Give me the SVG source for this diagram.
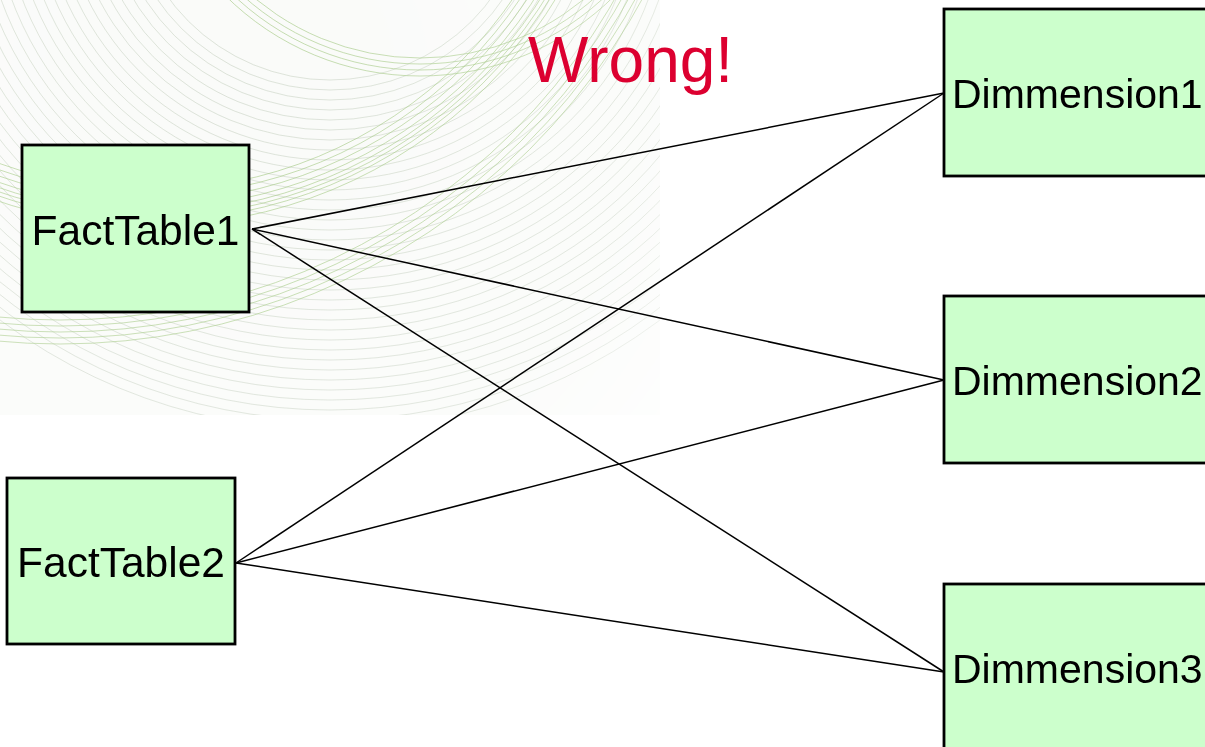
<svg xmlns="http://www.w3.org/2000/svg" width="1205" height="747" viewBox="0 0 1205 747">
<style>
.box{fill:#ccffcc;stroke:#000;stroke-width:2.8}
.lbl{font-family:"Liberation Sans",Arial,sans-serif;font-size:42.5px;fill:#000}
.dl{font-size:41px}
.conn line{stroke:#000;stroke-width:1.5}
.sw1 circle{fill:none;stroke:#aabba4;stroke-width:0.7;opacity:0.55}
.sw2 circle{fill:none;stroke:#9cc47a;stroke-width:1;opacity:0.6}
</style>
<defs>
<clipPath id="bgclip"><rect x="0" y="0" width="660" height="415"/></clipPath>
<radialGradient id="fade" cx="220" cy="80" r="600" gradientUnits="userSpaceOnUse">
<stop offset="0" stop-color="#fff" stop-opacity="1"/>
<stop offset="0.7" stop-color="#fff" stop-opacity="0.8"/>
<stop offset="1" stop-color="#fff" stop-opacity="0.1"/>
</radialGradient>
<mask id="fm"><rect x="0" y="0" width="660" height="415" fill="url(#fade)"/></mask>
</defs>
<rect width="1205" height="747" fill="#fff"/>
<g id="background" clip-path="url(#bgclip)" mask="url(#fm)">
<rect x="0" y="0" width="660" height="415" fill="#fafbf9"/>
<g class="sw1">
<circle cx="330" cy="-120" r="200"/><circle cx="330" cy="-120" r="210"/><circle cx="330" cy="-120" r="220"/><circle cx="330" cy="-120" r="230"/><circle cx="330" cy="-120" r="240"/><circle cx="330" cy="-120" r="250"/><circle cx="330" cy="-120" r="260"/><circle cx="330" cy="-120" r="270"/><circle cx="330" cy="-120" r="280"/><circle cx="330" cy="-120" r="290"/><circle cx="330" cy="-120" r="300"/><circle cx="330" cy="-120" r="310"/><circle cx="330" cy="-120" r="320"/><circle cx="330" cy="-120" r="330"/><circle cx="330" cy="-120" r="340"/><circle cx="330" cy="-120" r="350"/><circle cx="330" cy="-120" r="360"/><circle cx="330" cy="-120" r="370"/><circle cx="330" cy="-120" r="380"/><circle cx="330" cy="-120" r="390"/><circle cx="330" cy="-120" r="400"/><circle cx="330" cy="-120" r="410"/><circle cx="330" cy="-120" r="420"/><circle cx="330" cy="-120" r="430"/><circle cx="330" cy="-120" r="440"/><circle cx="330" cy="-120" r="450"/><circle cx="330" cy="-120" r="460"/><circle cx="330" cy="-120" r="470"/><circle cx="330" cy="-120" r="480"/><circle cx="330" cy="-120" r="490"/><circle cx="330" cy="-120" r="500"/><circle cx="330" cy="-120" r="510"/><circle cx="330" cy="-120" r="520"/><circle cx="330" cy="-120" r="530"/><circle cx="330" cy="-120" r="540"/><circle cx="330" cy="-120" r="550"/>
</g>
<g class="sw2">
<circle cx="150" cy="-250" r="440"/><circle cx="150" cy="-250" r="446"/><circle cx="150" cy="-250" r="452"/><circle cx="150" cy="-250" r="458"/><circle cx="150" cy="-250" r="463"/><circle cx="150" cy="-250" r="467"/><circle cx="150" cy="-250" r="471"/><circle cx="150" cy="-250" r="476"/>
<circle cx="60" cy="-320" r="640"/><circle cx="60" cy="-320" r="646"/><circle cx="60" cy="-320" r="652"/><circle cx="60" cy="-320" r="658"/><circle cx="60" cy="-320" r="664"/>
<circle cx="420" cy="-200" r="258"/><circle cx="420" cy="-200" r="264"/><circle cx="420" cy="-200" r="270"/><circle cx="420" cy="-200" r="276"/>
</g>
</g>
<text x="528" y="82" font-family="'Liberation Sans',Arial,sans-serif" font-size="64" fill="#dc0030">Wrong!</text>
<g id="connectors" class="conn">
<line x1="252" y1="229" x2="944" y2="93"/>
<line x1="252" y1="229" x2="944" y2="380"/>
<line x1="252" y1="229" x2="944" y2="672"/>
<line x1="236" y1="563" x2="944" y2="93"/>
<line x1="236" y1="563" x2="944" y2="380"/>
<line x1="236" y1="563" x2="944" y2="672"/>
</g>
<g id="FactTable1"><rect class="box" x="22" y="145" width="227" height="167"/><text class="lbl" x="135.5" y="245" text-anchor="middle">FactTable1</text></g>
<g id="FactTable2"><rect class="box" x="7" y="478" width="228" height="166"/><text class="lbl" x="121" y="577" text-anchor="middle">FactTable2</text></g>
<g id="Dimmension1"><rect class="box" x="944" y="9" width="270" height="167"/><text class="lbl dl" x="952" y="108">Dimmension1</text></g>
<g id="Dimmension2"><rect class="box" x="944" y="296" width="270" height="167"/><text class="lbl dl" x="952" y="395">Dimmension2</text></g>
<g id="Dimmension3"><rect class="box" x="944" y="584" width="270" height="167"/><text class="lbl dl" x="952" y="683">Dimmension3</text></g>
</svg>
